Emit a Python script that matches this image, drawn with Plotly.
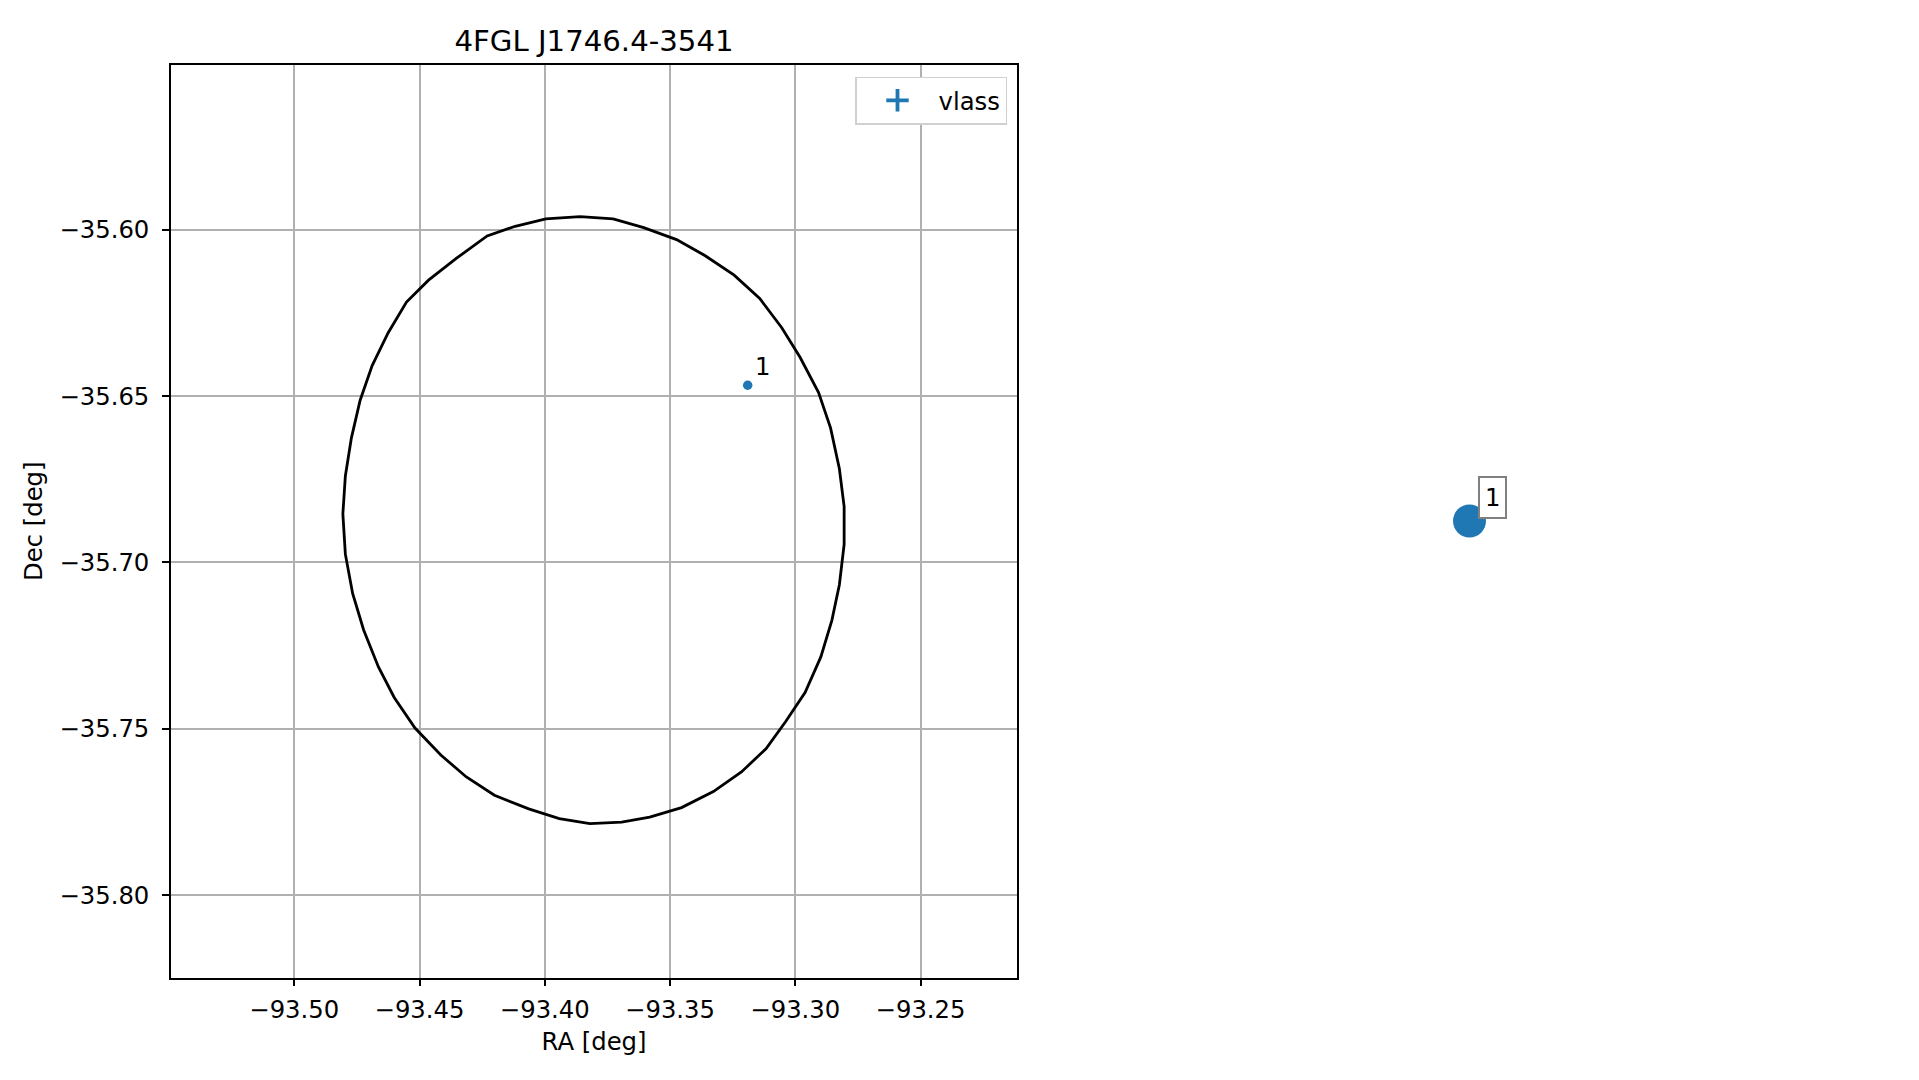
import plotly.graph_objects as go

# ---- data ----
title_text = "4FGL J1746.4-3541"
ellipse_ra = [-93.3859, -93.3727, -93.3605, -93.3474, -93.3361, -93.3244, -93.3142, -93.3054,
              -93.2981, -93.2907, -93.2859, -93.2824, -93.2805, -93.2805, -93.2824, -93.2854,
              -93.2898, -93.2961, -93.3039, -93.3117, -93.3215, -93.3327, -93.3454, -93.3581,
              -93.3693, -93.3820, -93.3942, -93.4064, -93.4201, -93.4313, -93.4415, -93.4518,
              -93.4601, -93.4664, -93.4723, -93.4767, -93.4796, -93.4806, -93.4796, -93.4772,
              -93.4737, -93.4689, -93.4625, -93.4552, -93.4464, -93.4352, -93.4230, -93.4118,
              -93.3996, -93.3859]
ellipse_dec = [-35.5960, -35.5967, -35.5993, -35.6029, -35.6077, -35.6136, -35.6206, -35.6294,
               -35.6383, -35.6489, -35.6596, -35.6718, -35.6832, -35.6946, -35.7067, -35.7174,
               -35.7284, -35.7391, -35.7479, -35.7560, -35.7630, -35.7689, -35.7737, -35.7766,
               -35.7781, -35.7785, -35.7770, -35.7741, -35.7700, -35.7645, -35.7579, -35.7498,
               -35.7406, -35.7314, -35.7203, -35.7093, -35.6975, -35.6854, -35.6740, -35.6626,
               -35.6512, -35.6408, -35.6309, -35.6217, -35.6151, -35.6085, -35.6018, -35.5989,
               -35.5967, -35.5960]
src_ra = [-93.3190]
src_dec = [-35.6467]
src_labels = ["1"]
series_name = "vlass"
x_ticks = [-93.50, -93.45, -93.40, -93.35, -93.30, -93.25]
y_ticks = [-35.60, -35.65, -35.70, -35.75, -35.80]

W, H = 1919, 1080
OFF = 8  # page body margin in the browser
L, R, T, B = 171, 1017, 65, 977.5
blue = "#1f77b4"
font = "DejaVu Sans"
fs = 24.3
fs_title = 29.2


def px(x):
    return (x - OFF) / W


def py(y):
    return 1 - (y - OFF) / H


fig = go.Figure()

fig.add_trace(go.Scatter(x=ellipse_ra, y=ellipse_dec, mode="lines",
                         line=dict(color="black", width=2.8), showlegend=False,
                         hoverinfo="skip"))
fig.add_trace(go.Scatter(x=src_ra, y=src_dec, mode="markers", name=series_name,
                         marker=dict(color=blue, size=9.5), showlegend=False))
# legend entry (errorbar style cross)
fig.add_trace(go.Scatter(x=[None], y=[None], mode="markers", name=series_name,
                         marker=dict(color=blue, size=25, symbol="cross-thin",
                                     line=dict(color=blue, width=3.8)),
                         showlegend=True))

# right-side standalone marker, drawn on hidden overlay axes
fig.add_trace(go.Scatter(x=src_ra, y=src_dec, mode="markers", xaxis="x2", yaxis="y2",
                         marker=dict(color=blue, size=33), showlegend=False))

for ra, dec, lab in zip(src_ra, src_dec, src_labels):
    fig.add_annotation(x=ra, y=dec, xref="x", yref="y", text=lab, showarrow=False,
                       xshift=15, yshift=19, font=dict(family=font, size=fs, color="black"))
    fig.add_annotation(x=ra, y=dec, xref="x2", yref="y2", text=lab, showarrow=False,
                       xshift=23, yshift=23.5, font=dict(family=font, size=fs, color="black"),
                       bgcolor="white", bordercolor="#808080", borderwidth=2, borderpad=5)

xdom = [px(L), px(R)]
ydom = [py(B), py(T)]
ra0 = src_ra[0]
dec0 = src_dec[0]
fx = px(1469.5)
fy = py(521)

axis_common = dict(showline=True, linecolor="black", linewidth=1.6, mirror=True,
                   ticks="outside", ticklen=7, tickwidth=1.6, tickcolor="black",
                   showgrid=True, gridcolor="#b0b0b0", gridwidth=1.6, zeroline=False,
                   tickfont=dict(family=font, size=fs, color="black"),
                   tickformat=".2f", automargin=False)

fig.update_layout(
    width=W, height=H,
    margin=dict(l=0, r=0, t=0, b=0),
    paper_bgcolor="white", plot_bgcolor="rgba(0,0,0,0)",
    title=dict(text=title_text, x=(px(L) + px(R)) / 2, xanchor="center",
               y=py(41), yanchor="middle",
               font=dict(family=font, size=fs_title, color="black")),
    xaxis=dict(domain=xdom, range=[-93.5492, -93.2115], tickvals=x_ticks,
               ticklabelstandoff=3,
               title=dict(text="RA [deg]", font=dict(family=font, size=fs, color="black"),
                          standoff=10),
               anchor="y", **axis_common),
    yaxis=dict(domain=ydom, range=[-35.8248, -35.5504], tickvals=y_ticks,
               ticklabelstandoff=8,
               title=dict(text="Dec [deg]", font=dict(family=font, size=fs, color="black"),
                          standoff=10),
               anchor="x", **axis_common),
    xaxis2=dict(domain=[0, 1], range=[ra0 - fx, ra0 + (1 - fx)], visible=False,
                anchor="y2"),
    yaxis2=dict(domain=[0, 1], range=[dec0 - fy, dec0 + (1 - fy)], visible=False,
                anchor="x2"),
    legend=dict(x=px(1007), y=py(76.5), xanchor="right", yanchor="top",
                bgcolor="white", bordercolor="#d0d0d0", borderwidth=1.5,
                font=dict(family=font, size=fs, color="black"),
                itemsizing="trace", itemwidth=72),
    showlegend=True,
)

fig.write_html("out.html")
